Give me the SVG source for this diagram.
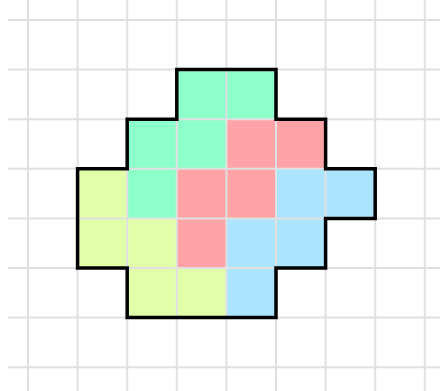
<svg xmlns="http://www.w3.org/2000/svg" width="440" height="391" viewBox="0 0 440 391">
<style>
.g{fill:#8cffcb}.r{fill:#ffa3a6}.y{fill:#e1ffa8}.b{fill:#abe4ff}
.grid line{stroke:#e0e0e0;stroke-width:2}
.outline{fill:none;stroke:#000;stroke-width:3.5;stroke-linejoin:miter}
</style>
<rect width="440" height="391" fill="#fff"/>
<g id="cells">
<rect class="g" x="176.8" y="69.6" width="49.6" height="49.6"/>
<rect class="g" x="226.4" y="69.6" width="49.6" height="49.6"/>
<rect class="g" x="127.2" y="119.2" width="49.6" height="49.6"/>
<rect class="g" x="176.8" y="119.2" width="49.6" height="49.6"/>
<rect class="r" x="226.4" y="119.2" width="49.6" height="49.6"/>
<rect class="r" x="276" y="119.2" width="49.6" height="49.6"/>
<rect class="y" x="77.6" y="168.8" width="49.6" height="49.6"/>
<rect class="g" x="127.2" y="168.8" width="49.6" height="49.6"/>
<rect class="r" x="176.8" y="168.8" width="49.6" height="49.6"/>
<rect class="r" x="226.4" y="168.8" width="49.6" height="49.6"/>
<rect class="b" x="276" y="168.8" width="49.6" height="49.6"/>
<rect class="b" x="325.6" y="168.8" width="49.6" height="49.6"/>
<rect class="y" x="77.6" y="218.4" width="49.6" height="49.6"/>
<rect class="y" x="127.2" y="218.4" width="49.6" height="49.6"/>
<rect class="r" x="176.8" y="218.4" width="49.6" height="49.6"/>
<rect class="b" x="226.4" y="218.4" width="49.6" height="49.6"/>
<rect class="b" x="276" y="218.4" width="49.6" height="49.6"/>
<rect class="y" x="127.2" y="268" width="49.6" height="49.6"/>
<rect class="y" x="176.8" y="268" width="49.6" height="49.6"/>
<rect class="b" x="226.4" y="268" width="49.6" height="49.6"/>
</g>
<g id="grid" class="grid">
<line x1="28" y1="0" x2="28" y2="391"/>
<line x1="77.6" y1="0" x2="77.6" y2="391"/>
<line x1="127.2" y1="0" x2="127.2" y2="391"/>
<line x1="176.8" y1="0" x2="176.8" y2="391"/>
<line x1="226.4" y1="0" x2="226.4" y2="391"/>
<line x1="276" y1="0" x2="276" y2="391"/>
<line x1="325.6" y1="0" x2="325.6" y2="391"/>
<line x1="375.2" y1="0" x2="375.2" y2="391"/>
<line x1="424.8" y1="0" x2="424.8" y2="391"/>
<line x1="8" y1="20" x2="440" y2="20"/>
<line x1="8" y1="69.6" x2="440" y2="69.6"/>
<line x1="8" y1="119.2" x2="440" y2="119.2"/>
<line x1="8" y1="168.8" x2="440" y2="168.8"/>
<line x1="8" y1="218.4" x2="440" y2="218.4"/>
<line x1="8" y1="268" x2="440" y2="268"/>
<line x1="8" y1="317.6" x2="440" y2="317.6"/>
<line x1="8" y1="367.2" x2="440" y2="367.2"/>
</g>
<g id="outline">
<path class="outline" d="M176.8,69.6 H276 V119.2 H325.6 V168.8 H375.2 V218.4 H325.6 V268 H276 V317.6 H127.2 V268 H77.6 V168.8 H127.2 V119.2 H176.8 Z"/>
</g>
</svg>
